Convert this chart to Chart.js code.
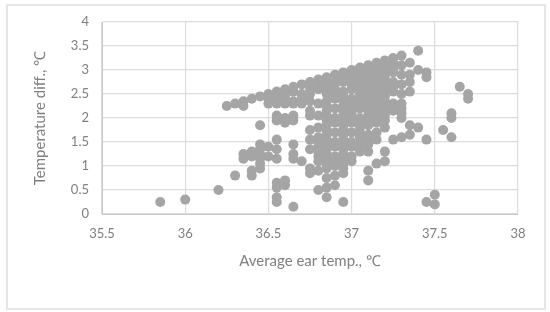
<!DOCTYPE html>
<html>
<head>
<meta charset="utf-8">
<script src="https://cdn.jsdelivr.net/npm/chart.js@4/dist/chart.umd.min.js"></script>
<style>
    html, body { margin: 0; background: #fff; overflow: hidden; }
    #frame { position: absolute; left: 6px; top: 4px; width: 536px; height: 302px; border: 2px solid #e6e6e6; }
    #chart { position: absolute; left: 0; top: 0; }
</style>
</head>
<body>
<div id="frame"></div>
<canvas id="chart" width="550" height="312"></canvas>
<script>
const xTicks = [35.5, 36, 36.5, 37, 37.5, 38];
const yTicks = [0, 0.5, 1, 1.5, 2, 2.5, 3, 3.5, 4];

// ear temperature columns, and the temperature differences seen in each one
const earTemps = [35.85, 36, 36.2, 36.25, 36.3, 36.35, 36.4, 36.45, 36.5, 36.55, 36.6, 36.65, 36.7, 36.75, 36.8, 36.85, 36.9, 36.95, 37, 37.05, 37.1, 37.15, 37.2, 37.25, 37.3, 37.35, 37.4, 37.45, 37.5, 37.55, 37.6, 37.65, 37.7];
const tempDiffs = [
    [0.25],
    [0.3],
    [0.5],
    [2.25],
    [0.8, 2.3],
    [1.15, 1.25, 2.25, 2.35],
    [0.8, 0.9, 1.2, 1.3, 2.4],
    [0.95, 1.05, 1.15, 1.25, 1.35, 1.45, 1.85, 2.45],
    [1.2, 1.4, 2.3, 2.4, 2.5],
    [0.25, 0.35, 0.55, 0.65, 1.15, 1.35, 1.55, 1.95, 2.05, 2.3, 2.4, 2.5, 2.55],
    [0.6, 0.7, 1.9, 2, 2.3, 2.35, 2.45, 2.55, 2.6],
    [0.15, 1.15, 1.25, 1.45, 1.95, 2.05, 2.3, 2.35, 2.55, 2.65],
    [1.1, 2.3, 2.4, 2.5, 2.7],
    [0.85, 0.95, 1.35, 1.55, 1.75, 2.05, 2.15, 2.35, 2.5, 2.6, 2.75],
    [0.5, 0.9, 1.1, 1.2, 1.3, 1.4, 1.5, 1.6, 1.8, 2.05, 2.3, 2.6, 2.7, 2.8],
    [0.35, 0.55, 0.75, 0.95, 1.05, 1.15, 1.25, 1.35, 1.45, 1.55, 1.65, 1.75, 1.85, 1.95, 2.05, 2.15, 2.25, 2.35, 2.5, 2.6, 2.7, 2.85],
    [0.6, 0.8, 1, 1.1, 1.2, 1.4, 1.5, 1.7, 1.9, 2, 2.2, 2.4, 2.5, 2.6, 2.7, 2.75, 2.9],
    [0.25, 0.85, 0.95, 1.05, 1.15, 1.25, 1.35, 1.45, 1.55, 1.65, 1.75, 1.85, 1.95, 2.05, 2.15, 2.25, 2.35, 2.45, 2.55, 2.75, 2.85, 2.95],
    [1.1, 1.2, 1.4, 1.5, 1.7, 1.9, 2, 2.1, 2.2, 2.3, 2.4, 2.6, 2.7, 2.8, 2.85, 2.9, 3],
    [1.3, 1.4, 1.5, 1.6, 1.7, 1.8, 1.9, 2, 2.2, 2.3, 2.4, 2.5, 2.6, 2.7, 2.8, 2.95, 3.05],
    [0.7, 0.9, 1.3, 1.45, 1.55, 1.65, 1.85, 1.95, 2.05, 2.15, 2.25, 2.35, 2.45, 2.55, 2.65, 2.75, 2.8, 2.9, 3, 3.1],
    [1.05, 1.55, 1.7, 1.9, 2, 2.1, 2.2, 2.3, 2.4, 2.5, 2.6, 2.7, 2.8, 2.95, 3.05, 3.15],
    [1.1, 1.3, 1.8, 1.95, 2.05, 2.15, 2.25, 2.35, 2.45, 2.55, 2.65, 2.75, 2.85, 2.95, 3.05, 3.1, 3.2],
    [1.55, 2.15, 2.25, 2.3, 2.55, 2.65, 2.75, 2.95, 3.05, 3.15, 3.25],
    [1.6, 2, 2.1, 2.2, 2.3, 2.5, 2.7, 2.9, 3.1, 3.3],
    [1.65, 1.85, 2.55, 2.75, 2.9, 3.15],
    [1.8, 3, 3.4],
    [0.25, 1.55, 2.85, 2.95],
    [0.2, 0.4],
    [1.75],
    [1.6, 2, 2.1],
    [2.65],
    [2.4, 2.5]
];

const points = [];
earTemps.forEach((t, i) => {
    tempDiffs[i].forEach(d => points.push({ x: t, y: d }));
});

const textColor = '#7f7f7f';
const gridColor = '#dcdcdc';
const tickFont = { family: 'Lato', size: 13 };
const titleFont = { family: 'Lato', size: 15 };

new Chart(document.getElementById('chart'), {
    type: 'scatter',
    data: {
        datasets: [{
            data: points,
            backgroundColor: '#a5a5a5',
            borderWidth: 0,
            pointRadius: 5,
            pointHoverRadius: 5
        }]
    },
    options: {
        responsive: false,
        animation: false,
        layout: { padding: { left: 31, right: 32, top: 22, bottom: 42 } },
        plugins: { legend: { display: false }, tooltip: { enabled: false } },
        scales: {
            x: {
                type: 'linear',
                min: 35.5,
                max: 38,
                afterBuildTicks: axis => { axis.ticks = xTicks.map(v => ({ value: v })); },
                afterFit: axis => { axis.height = 56; },
                border: { color: '#c8c8c8' },
                grid: { color: gridColor, drawTicks: false, lineWidth: 1.2 },
                ticks: { color: textColor, font: tickFont, padding: 12, maxRotation: 0, callback: v => String(v) },
                title: { display: true, text: 'Average ear temp., ℃', color: textColor, font: titleFont, padding: { top: 6, bottom: 0 } }
            },
            y: {
                min: 0,
                max: 4,
                afterBuildTicks: axis => { axis.ticks = yTicks.map(v => ({ value: v })); },
                afterFit: axis => { axis.width = 71; },
                border: { color: '#c8c8c8' },
                grid: { color: gridColor, drawTicks: false, lineWidth: 1.2 },
                ticks: { color: textColor, font: tickFont, padding: 13, callback: v => String(v) },
                title: { display: true, text: 'Temperature diff., ℃', color: textColor, font: titleFont, padding: 0 }
            }
        }
    }
});
</script>
</body>
</html>
